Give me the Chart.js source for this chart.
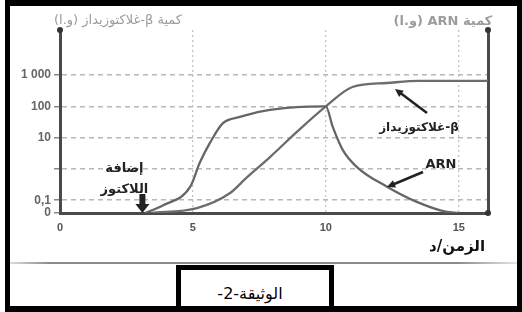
<!doctype html>
<html>

<head>
    <meta charset="utf-8">
    <title>الوثيقة 2</title>
    <script src="https://cdn.jsdelivr.net/npm/chart.js"></script>
    <style>
        body { margin: 0; background: #fff; }
        #frame { position: relative; width: 522px; height: 312px; overflow: hidden; background: #fff; }
        #frame canvas { position: absolute; left: 0; top: 0; }
        #border { position: absolute; left: 5px; top: 0; width: 517px; height: 312px; box-sizing: border-box;
                  border: 5px solid #000; border-top-width: 6px; border-bottom-width: 6px; pointer-events: none; }
        #sep { position: absolute; left: 10px; top: 262px; width: 507px; height: 2px;
               background: linear-gradient(to right, #ddd, #8a8a8a 8%, #8a8a8a 88%, #e5e5e5); }
        #doc { position: absolute; left: 176px; top: 265px; width: 158px; height: 47px; box-sizing: border-box;
               border: 5px solid #000; border-bottom: none; background: #fff; text-align: center;
               font: 16px "DejaVu Sans"; line-height: 48px; color: #000; padding-left: 0; padding-right: 10px; }
    </style>
</head>

<body>
    <div id="frame">
        <canvas id="graph" width="522" height="312"></canvas>
        <div id="sep"></div>
        <div id="doc" dir="rtl">الوثيقة-2-</div>
        <div id="border"></div>
    </div>

    <script>
        // time in minutes, quantities in arbitrary units (0 = on the time axis)
        const arnTime = [3.2, 3.9, 4.9, 5.26, 5.64, 6.13, 6.77, 7.63, 8.9, 10, 10.26, 10.64, 11.17, 12.3, 13.4, 14.5, 15];
        const arnValue = [0, 0.07, 0.27, 1.6, 6.8, 29, 46, 71, 95, 100, 22, 4, 1.15, 0.27, 0.09, 0.043, 0];
        const galTime = [3.4, 5.15, 6.4, 7.0, 7.9, 8.9, 10, 11.0, 12.3, 13.5, 16.1];
        const galValue = [0, 0.056, 0.17, 0.51, 2.4, 15, 100, 417, 560, 650, 650];

        const xTicks = [0, 5, 10, 15];
        const xLabels = ['0', '5', '10', '15'];
        const yTicks = [0, 0.1, 1, 10, 100, 1000];
        const yLabels = ['0', '0,1', '', '10', '100', '1 000'];

        const lactoseTime = 3.1;

        const Y_MIN = 0.039;
        const Y_MAX = 27700;
        const X_MAX = 16.1;

        const toPoints = (ts, vs) => ts.map((t, i) => ({ x: t, y: vs[i] === 0 ? Y_MIN : vs[i] }));

        function arrow(ctx, x1, y1, x2, y2, head, width) {
            const a = Math.atan2(y2 - y1, x2 - x1);
            ctx.lineWidth = width;
            ctx.beginPath();
            ctx.moveTo(x1, y1);
            ctx.lineTo(x2 - Math.cos(a) * head * 0.8, y2 - Math.sin(a) * head * 0.8);
            ctx.stroke();
            ctx.beginPath();
            ctx.moveTo(x2, y2);
            ctx.lineTo(x2 - head * Math.cos(a - 0.45), y2 - head * Math.sin(a - 0.45));
            ctx.lineTo(x2 - head * Math.cos(a + 0.45), y2 - head * Math.sin(a + 0.45));
            ctx.closePath();
            ctx.fill();
        }

        const notes = {
            id: 'notes',
            afterDraw(chart) {
                const { ctx, scales: { x, y } } = chart;
                ctx.save();
                ctx.direction = 'rtl';
                ctx.textAlign = 'center';
                ctx.textBaseline = 'middle';

                // axis titles at the top
                ctx.fillStyle = '#9c9c9c';
                ctx.font = '13px "DejaVu Sans"';
                ctx.fillText('كمية β-غلاكتوزيداز (و.ا)', 118, 21);
                ctx.font = 'bold 13px "DejaVu Sans"';
                ctx.fillText('كمية ARN (و.ا)', 443, 22);

                // axis end dots
                ctx.fillStyle = '#333';
                [[x.left, y.top], [x.right, y.top], [x.right, y.bottom]].forEach(([px, py]) => {
                    ctx.beginPath();
                    ctx.arc(px, py, 3, 0, Math.PI * 2);
                    ctx.fill();
                });

                // lactose added
                const lx = x.getPixelForValue(lactoseTime);
                ctx.fillStyle = '#222';
                ctx.font = 'bold 13px "DejaVu Sans"';
                ctx.fillText('إضافة', lx - 18, 169);
                ctx.fillText('اللاكتوز', lx - 18, 190);
                ctx.fillRect(lx - 3, y.bottom - 19, 6, 11);
                ctx.beginPath();
                ctx.moveTo(lx - 7, y.bottom - 9);
                ctx.lineTo(lx + 7, y.bottom - 9);
                ctx.lineTo(lx, y.bottom);
                ctx.closePath();
                ctx.fill();

                // curve labels
                ctx.strokeStyle = '#222';
                ctx.font = 'bold 12px "DejaVu Sans"';
                ctx.fillText('β-غلاكتوزيداز', 419, 128);
                arrow(ctx, 427, 113, 395, 89, 9, 2.5);
                ctx.font = 'bold 13px "DejaVu Sans"';
                ctx.fillText('ARN', 441, 165);
                arrow(ctx, 423, 172, 387, 187, 9, 2.5);

                // time axis title
                ctx.font = 'bold 15px "DejaVu Sans"';
                ctx.fillStyle = '#111';
                ctx.fillText('الزمن/د', 457, 247);
                ctx.restore();
            }
        };

        const graph = new Chart(document.getElementById('graph').getContext('2d'), {
            type: 'line',
            data: {
                datasets: [{
                    label: 'ARN',
                    data: toPoints(arnTime, arnValue),
                    borderColor: '#666',
                    borderWidth: 2.3,
                    pointRadius: 0,
                    cubicInterpolationMode: 'monotone'
                }, {
                    label: 'β-غلاكتوزيداز',
                    data: toPoints(galTime, galValue),
                    borderColor: '#6c6c6c',
                    borderWidth: 2.3,
                    pointRadius: 0,
                    cubicInterpolationMode: 'monotone'
                }]
            },
            options: {
                responsive: false,
                animation: false,
                layout: { padding: { top: 30, left: 0, right: 0, bottom: 0 } },
                plugins: {
                    legend: { display: false },
                    tooltip: { enabled: false }
                },
                scales: {
                    x: {
                        type: 'linear',
                        min: 0,
                        max: X_MAX,
                        afterBuildTicks: (s) => { s.ticks = xTicks.map(v => ({ value: v })); },
                        afterFit: (s) => { s.height = 99; },
                        ticks: {
                            padding: 8,
                            color: '#555',
                            font: { family: 'Liberation Sans', size: 11, weight: 'bold' },
                            callback: (v) => xLabels[xTicks.indexOf(v)]
                        },
                        grid: {
                            drawTicks: false,
                            lineWidth: 1.3,
                            color: (c) => c.tick && c.tick.value === 0 ? 'rgba(0,0,0,0)' : '#c4c4c4'
                        },
                        border: { color: '#4a4a4a', width: 3, dash: [2, 3] }
                    },
                    y: {
                        type: 'logarithmic',
                        min: Y_MIN,
                        max: Y_MAX,
                        bounds: 'data',
                        afterBuildTicks: (s) => { s.ticks = yTicks.map(v => ({ value: v === 0 ? Y_MIN : v })); },
                        afterFit: (s) => { s.width = 60; },
                        ticks: {
                            padding: 3,
                            color: '#666',
                            font: { family: 'Liberation Sans', size: 12, weight: 'bold' },
                            callback: (v) => {
                                const i = yTicks.indexOf(v === Y_MIN ? 0 : v);
                                return i < 0 ? '' : yLabels[i];
                            }
                        },
                        grid: {
                            tickLength: 6,
                            lineWidth: 1.5,
                            tickColor: '#888',
                            color: (c) => c.tick && c.tick.value === Y_MIN ? 'rgba(0,0,0,0)' : '#b8b8b8'
                        },
                        border: { color: '#4a4a4a', width: 3, dash: [5, 4] }
                    },
                    y2: {
                        type: 'linear',
                        position: 'right',
                        min: 0,
                        max: 1,
                        afterFit: (s) => { s.width = 34; },
                        ticks: { display: false },
                        grid: { display: false },
                        border: { color: '#4a4a4a', width: 3 }
                    }
                }
            },
            plugins: [notes]
        });
    </script>
</body>

</html>
